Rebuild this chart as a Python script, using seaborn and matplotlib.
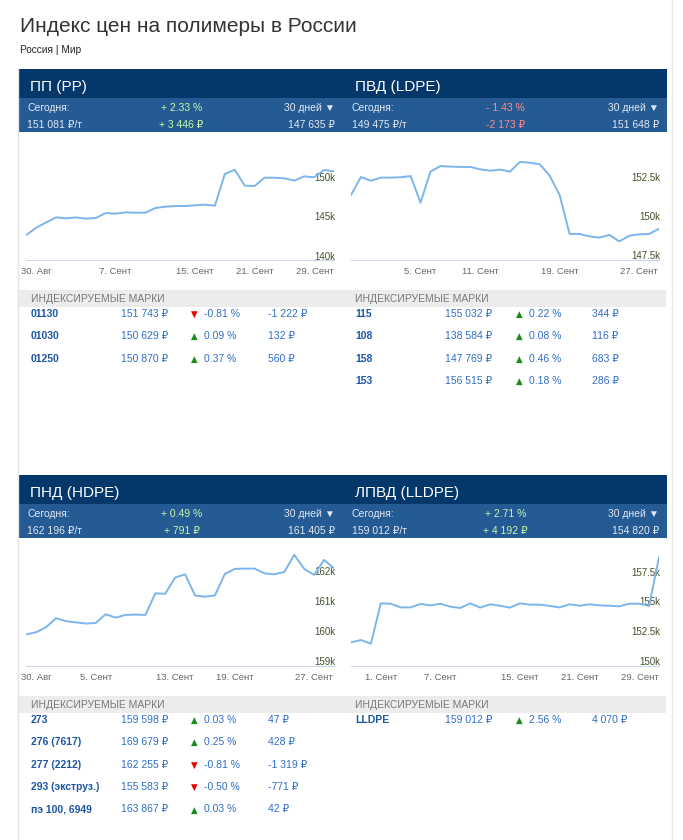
import pandas as pd
import seaborn as sns
import matplotlib.pyplot as plt
from matplotlib.patches import Rectangle
from matplotlib.ticker import FuncFormatter

# --- данные: цены, тыс. руб/т, ежедневно 29.08 - 29.09 ---
dates = pd.date_range('2021-08-29', '2021-09-29', freq='D')

pp_values = [142.65, 143.57, 144.24, 144.87, 144.75, 144.87, 144.71, 144.79,
             145.42, 145.34, 145.50, 145.46, 145.46, 146.05, 146.22, 146.30,
             146.30, 146.39, 146.47, 146.34, 150.34, 150.88, 148.87, 148.82,
             149.87, 149.87, 149.79, 149.50, 150.04, 149.92, 150.84, 150.67]
ldpe_values = [151.33, 152.48, 152.24, 152.44, 152.44, 152.46, 152.54, 150.84,
               152.82, 153.18, 153.14, 153.12, 153.12, 152.97, 152.88, 152.95,
               152.82, 153.44, 153.39, 153.29, 152.56, 151.33, 148.84, 148.84,
               148.69, 148.61, 148.78, 148.37, 148.73, 148.82, 148.84, 149.18]
hdpe_values = [159.88, 159.95, 160.12, 160.42, 160.32, 160.28, 160.24, 160.26,
               160.55, 160.44, 160.53, 160.54, 160.53, 161.25, 161.24, 161.78,
               161.89, 161.18, 161.14, 161.18, 161.90, 162.07, 162.08, 162.08,
               161.92, 161.89, 161.97, 162.54, 162.07, 161.87, 162.37, 162.09]
lldpe_values = [151.54, 151.74, 151.43, 154.83, 154.80, 154.49, 154.49, 154.78,
                154.66, 154.80, 154.55, 154.44, 154.83, 154.47, 154.75, 154.63,
                154.47, 154.83, 154.72, 154.72, 154.61, 154.49, 154.75, 154.63,
                154.75, 154.66, 154.63, 154.58, 154.80, 154.80, 154.61, 158.71]

pp_xticks = ['2021-08-30', '2021-09-07', '2021-09-15', '2021-09-21', '2021-09-29']
ldpe_xticks = ['2021-09-05', '2021-09-11', '2021-09-19', '2021-09-27']
hdpe_xticks = ['2021-08-30', '2021-09-05', '2021-09-13', '2021-09-19', '2021-09-27']
lldpe_xticks = ['2021-09-01', '2021-09-07', '2021-09-15', '2021-09-21', '2021-09-29']

pp_yticks = [140, 145, 150]
ldpe_yticks = [147.5, 150, 152.5]
hdpe_yticks = [159, 160, 161, 162]
lldpe_yticks = [150, 152.5, 155, 157.5]

# шапки панелей
panel_titles = ['ПП (PP)', 'ПВД (LDPE)', 'ПНД (HDPE)', 'ЛПВД (LLDPE)']
today_prices = [151081, 149475, 162196, 159012]
today_pcts = [2.33, -1.43, 0.49, 2.71]
today_changes = [3446, -2173, 791, 4192]
month_prices = [147635, 151648, 161405, 154820]

# индексируемые марки
pp_grades = ['01130', '01030', '01250']
pp_grade_prices = [151743, 150629, 150870]
pp_grade_pcts = [-0.81, 0.09, 0.37]
pp_grade_changes = [-1222, 132, 560]

ldpe_grades = ['115', '108', '158', '153']
ldpe_grade_prices = [155032, 138584, 147769, 156515]
ldpe_grade_pcts = [0.22, 0.08, 0.46, 0.18]
ldpe_grade_changes = [344, 116, 683, 286]

hdpe_grades = ['273', '276 (7617)', '277 (2212)', '293 (экструз.)', 'пэ 100, 6949']
hdpe_grade_prices = [159598, 169679, 162255, 155583, 163867]
hdpe_grade_pcts = [0.03, 0.25, -0.81, -0.50, 0.03]
hdpe_grade_changes = [47, 428, -1319, -771, 42]

lldpe_grades = ['LLDPE']
lldpe_grade_prices = [159012]
lldpe_grade_pcts = [2.56]
lldpe_grade_changes = [4070]

months_ru = {8: 'Авг', 9: 'Сент'}

# --- стиль ---
sns.set_style('white')
plt.rcParams['font.family'] = ['Liberation Sans', 'DejaVu Sans']

W, H = 683, 840
DARK = '#04386b'
MID = '#245b94'
LIGHT_TXT = '#e2e8f0'
LINE = '#7cb5ec'
AXIS = '#ccd6eb'
CODE_BLUE = '#1b56a5'
VAL_BLUE = '#2f6ec5'

fig = plt.figure(figsize=(W / 100, H / 100), dpi=100)
bg = fig.add_axes([0, 0, 1, 1])
bg.set_xlim(0, W)
bg.set_ylim(H, 0)
bg.axis('off')


def rect(x0, y0, x1, y1, color):
    bg.add_patch(Rectangle((x0, y0), x1 - x0, y1 - y0, color=color, lw=0))


def px_axes(x0, y0, x1, y1):
    return fig.add_axes([x0 / W, 1 - y1 / H, (x1 - x0) / W, (y1 - y0) / H])


def rub(v):
    return f'{v:,}'.replace(',', ' ') + ' ₽'


def signed_pct(v):
    return ('+ ' if v >= 0 else '- ') + f'{abs(v):.2f} %'


def signed_rub(v):
    return ('+ ' + rub(v)) if v >= 0 else rub(v)


# заголовок страницы
bg.text(19.6, 31.7, 'Индекс цен на полимеры в России', fontsize=15,
        color='#333333', va='baseline')
bg.text(19.6, 53.3, 'Россия | Мир', fontsize=7.3, color='#222222', va='baseline')

# рамки
bg.plot([18.3, 18.3], [69, H], color='#e3e3e3', lw=1)
bg.plot([671.7, 671.7], [0, H], color='#e8e8e8', lw=1)

COL_DX = 324.3
ROW_DY = 406


def draw_panel(k, col, row):
    dx = col * COL_DX
    dy = row * ROW_DY
    bg.text(30.5 + dx, 90.5 + dy, panel_titles[k], color='white', fontsize=11,
            va='baseline')
    pc = '#c8f7a3' if today_pcts[k] >= 0 else '#ff8a8a'
    bg.text(27.4 + dx, 111 + dy, 'Сегодня:', color=LIGHT_TXT, fontsize=7.5,
            va='baseline')
    bg.text(181.5 + dx, 111 + dy, signed_pct(today_pcts[k]), color=pc,
            fontsize=7.5, va='baseline', ha='center')
    bg.text(335 + dx, 111 + dy, '30 дней ▼', color=LIGHT_TXT, fontsize=7.5,
            va='baseline', ha='right')
    bg.text(27.4 + dx, 128.3 + dy, rub(today_prices[k]) + '/т', color=LIGHT_TXT,
            fontsize=7.5, va='baseline')
    bg.text(181.5 + dx, 128.3 + dy, signed_rub(today_changes[k]), color=pc,
            fontsize=7.5, va='baseline', ha='center')
    bg.text(335 + dx, 128.3 + dy, rub(month_prices[k]), color=LIGHT_TXT,
            fontsize=7.5, va='baseline', ha='right')
    bg.text(30.6 + dx, 301.7 + dy, 'ИНДЕКСИРУЕМЫЕ МАРКИ', color='#7a7a7a',
            fontsize=7.5, va='baseline')


def draw_grades(grades, prices, pcts, changes, col, row):
    dx = col * COL_DX
    dy = row * ROW_DY
    for i, g in enumerate(grades):
        y = 316.7 + dy + i * 22.45
        bg.text(30.6 + dx, y, g, color=CODE_BLUE, fontsize=7.5,
                fontweight='bold', va='baseline')
        bg.text(121 + dx, y, rub(prices[i]), color=VAL_BLUE, fontsize=7.5,
                va='baseline')
        up = pcts[i] >= 0
        bg.text(191.4 + dx, y, '▲' if up else '▼',
                color='#1a8a1a' if up else '#e60000', fontsize=6.2,
                va='baseline', family=['DejaVu Sans'])
        bg.text(204.5 + dx, y, f'{pcts[i]:.2f} %', color=VAL_BLUE,
                fontsize=7.5, va='baseline')
        bg.text(267.6 + dx, y, rub(changes[i]), color=VAL_BLUE, fontsize=7.5,
                va='baseline')


def draw_chart(values, xticks, yticks, box, ylim):
    ax = px_axes(*box)
    df = pd.DataFrame({'date': dates, 'price': values})
    sns.lineplot(data=df, x='date', y='price', ax=ax, color=LINE, linewidth=1.4)
    ax.set_facecolor('none')
    ax.set_xlim(dates[0], dates[-1])
    ax.set_ylim(*ylim)
    ax.set_xlabel('')
    ax.set_ylabel('')
    for s in ['top', 'left', 'right']:
        ax.spines[s].set_visible(False)
    ax.spines['bottom'].set_color(AXIS)
    ax.spines['bottom'].set_linewidth(0.8)
    tick_dates = pd.to_datetime(xticks)
    ax.set_xticks(tick_dates)
    ax.set_xticklabels([f'{d.day}. {months_ru[d.month]}' for d in tick_dates])
    ax.tick_params(axis='x', direction='out', length=3.8, width=0.7, color=AXIS,
                   labelsize=6.8, labelcolor='#666666', pad=1.5)
    for d, lbl in zip(tick_dates, ax.get_xticklabels()):
        if d == dates[-1]:
            lbl.set_horizontalalignment('right')
    ax.yaxis.tick_right()
    ax.set_yticks(yticks)
    ax.yaxis.set_major_formatter(FuncFormatter(lambda v, p: f'{v:g}k'))
    ax.tick_params(axis='y', length=0, pad=1.0, labelsize=7,
                   labelcolor='#3f5228')
    plt.setp(ax.get_yticklabels(), ha='right')
    ax.grid(False)
    return ax


for row in range(2):
    dy = row * ROW_DY
    rect(19, 68.5 + dy, 666.5, 98 + dy, DARK)
    rect(19, 98 + dy, 666.5, 132 + dy, MID)
    rect(19, 290 + dy, 666, 306.7 + dy, '#ececec')

draw_panel(0, 0, 0)
draw_panel(1, 1, 0)
draw_panel(2, 0, 1)
draw_panel(3, 1, 1)

draw_grades(pp_grades, pp_grade_prices, pp_grade_pcts, pp_grade_changes, 0, 0)
draw_grades(ldpe_grades, ldpe_grade_prices, ldpe_grade_pcts, ldpe_grade_changes, 1, 0)
draw_grades(hdpe_grades, hdpe_grade_prices, hdpe_grade_pcts, hdpe_grade_changes, 0, 1)
draw_grades(lldpe_grades, lldpe_grade_prices, lldpe_grade_pcts, lldpe_grade_changes, 1, 1)

draw_chart(pp_values, pp_xticks, pp_yticks, (26.3, 140, 334, 260), (139.5, 154.62))
draw_chart(ldpe_values, ldpe_xticks, ldpe_yticks, (351, 140, 659, 260), (147.18, 154.84))
draw_chart(hdpe_values, hdpe_xticks, hdpe_yticks, (26.3, 545, 334, 666), (158.82, 162.87))
draw_chart(lldpe_values, lldpe_xticks, lldpe_yticks, (351, 545, 659, 666), (149.55, 159.75))

fig.savefig('out.png', dpi=100)
